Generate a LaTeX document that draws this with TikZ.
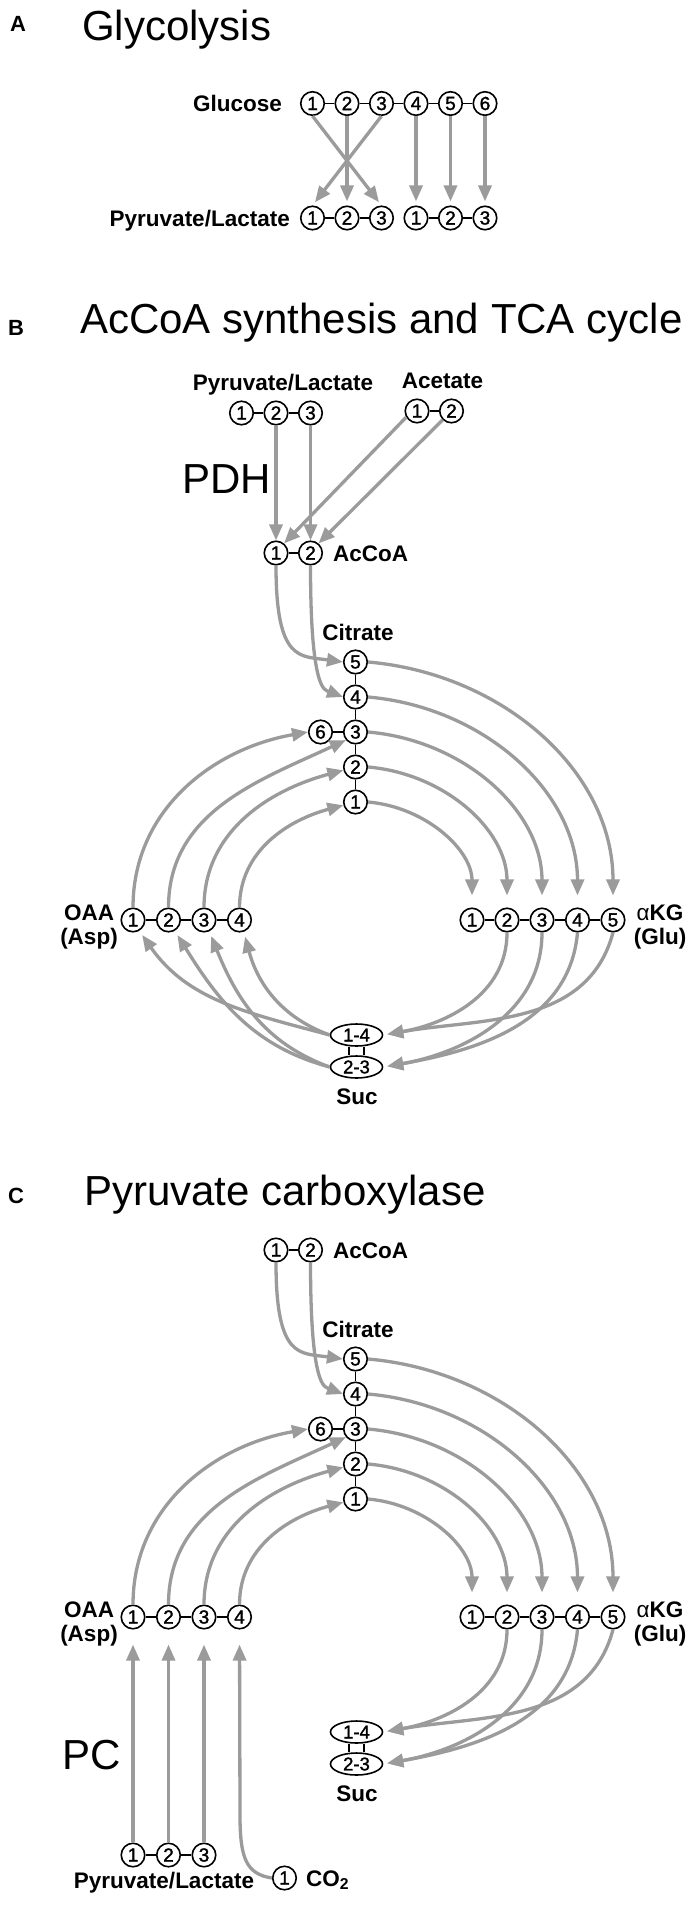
\documentclass[tikz,border=0pt]{standalone}
\usepackage{fontspec}
\setmainfont{Liberation Sans}
\newfontfamily\digitfont[FakeBold=1.5]{Liberation Sans}
\usetikzlibrary{arrows.meta,shapes.geometric}
\definecolor{agray}{RGB}{155,155,155}
\tikzset{
  atom/.style={circle, draw=black, line width=1.6pt, fill=white, minimum size=23.5pt, inner sep=0pt, font=\digitfont\fontsize{19}{19}\selectfont},
  sucnode/.style={ellipse, draw=black, line width=1.6pt, fill=white, minimum width=52pt, minimum height=22pt, inner sep=0pt, font=\digitfont\fontsize{18.5}{18.5}\selectfont},
  bond/.style={draw=black, line width=1.5pt},
  flow/.style={draw=agray, line width=3.3pt, -{Triangle[length=16pt,width=13pt]}},
  lbl/.style={inner sep=0pt, font=\fontsize{22.5}{22.5}\selectfont\bfseries},
  ttl/.style={inner sep=0pt, font=\fontsize{42}{42}\selectfont},
  plbl/.style={inner sep=0pt, font=\fontsize{22}{22}\selectfont\bfseries},
}
\newcommand{\tcacore}{%
  % AcCoA
  \node[atom] (a1) at (276,-553) {1};
  \node[atom] (a2) at (310.5,-553) {2};
  \node[lbl, anchor=base west] (accoa) at (333,-561) {AcCoA};
  \draw[bond] (a1) -- (a2);
  % Citrate
  \node[lbl, anchor=base] (citl) at (358,-640) {Citrate};
  \node[atom] (c5) at (355.5,-662) {5};
  \node[atom] (c4) at (355.5,-697) {4};
  \node[atom] (c3) at (355.5,-732) {3};
  \node[atom] (c2) at (355.5,-767) {2};
  \node[atom] (c1) at (355.5,-802) {1};
  \node[atom] (c6) at (320.5,-732) {6};
  \draw[bond] (c5) -- (c4); \draw[bond] (c4) -- (c3); \draw[bond] (c3) -- (c2);
  \draw[bond] (c2) -- (c1); \draw[bond] (c6) -- (c3);
  % OAA
  \foreach \i/\x in {1/133,2/168.5,3/204,4/239.5}{\node[atom] (o\i) at (\x,-920) {\i};}
  \draw[bond] (o1) -- (o2); \draw[bond] (o2) -- (o3); \draw[bond] (o3) -- (o4);
  \node[lbl, anchor=base] (oaa) at (89,-920) {OAA};
  \node[lbl, anchor=base] (asp) at (89,-944) {(Asp)};
  % aKG
  \foreach \i/\x in {1/472,2/507,3/542,4/577.5,5/613}{\node[atom] (k\i) at (\x,-920) {\i};}
  \draw[bond] (k1) -- (k2); \draw[bond] (k2) -- (k3); \draw[bond] (k3) -- (k4); \draw[bond] (k4) -- (k5);
  \node[lbl, anchor=base] (akg) at (660,-920) {{\mdseries α}KG};
  \node[lbl, anchor=base] (glu) at (660,-944) {(Glu)};
  % Succinate
  \node[sucnode] (s14) at (356.5,-1035) {1-4};
  \node[sucnode] (s23) at (356.5,-1067) {2-3};
  \draw[bond] ([xshift=-7.5pt]s14.south) -- ([xshift=-7.5pt]s23.north);
  \draw[bond] ([xshift=7.5pt]s14.south) -- ([xshift=7.5pt]s23.north);
  \node[lbl, anchor=base] (sucl) at (357,-1104) {Suc};
  % AcCoA -> citrate
  \draw[flow] (a1.south) .. controls (276,-662) and (300,-656) .. (c5.west);
  \draw[flow] (a2.south) .. controls (310.5,-692) and (325,-690) .. (c4.west);
  % citrate -> aKG
  \draw[flow, shorten >=12pt] (c5.east) to[out=-5,in=90] (k5.north);
  \draw[flow, shorten >=12pt] (c4.east) to[out=-5,in=90] (k4.north);
  \draw[flow, shorten >=12pt] (c3.east) to[out=-5,in=90] (k3.north);
  \draw[flow, shorten >=12pt] (c2.east) to[out=-5,in=90] (k2.north);
  \draw[flow, shorten >=12pt] (c1.east) to[out=-5,in=90] (k1.north);
  % OAA -> citrate
  \draw[flow] (o1.north) to[out=90,in=190] (c6.west);
  \draw[flow] (o2.north) to[out=90,in=205] (c3.-140);
  \draw[flow] (o3.north) to[out=90,in=195] (c2.195);
  \draw[flow] (o4.north) to[out=90,in=195] (c1.195);
  % aKG -> Suc
  \draw[flow, shorten >=4pt] (k2.south) to[out=-90,in=10] (s14.east);
  \draw[flow, shorten >=4pt] (k5.south) to[out=-105,in=10] (s14.east);
  \draw[flow, shorten >=4pt] (k3.south) to[out=-90,in=10] (s23.east);
  \draw[flow, shorten >=4pt] (k4.south) to[out=-95,in=10] (s23.east);
}
\begin{document}
\begin{tikzpicture}[x=1pt,y=1pt]
\useasboundingbox[fill=white] (0,0) rectangle (693,-1905);
% ---------------- Panel A
\node[plbl] (labA) at (18,-24) {A};
\node[ttl, anchor=base west] (titA) at (82,-41) {Glycolysis};
\foreach \i/\x in {1/312.5,2/347,3/381.5,4/416,5/450.5,6/485}{\node[atom] (g\i) at (\x,-103.5) {\i};}
\foreach \i/\x/\t in {1/312.5/1,2/347/2,3/381.5/3,4/416/1,5/450.5/2,6/485/3}{\node[atom] (pa\i) at (\x,-218) {\t};}
\draw[bond] (g1) -- (g2); \draw[bond] (g2) -- (g3); \draw[bond] (g3) -- (g4);
\draw[bond] (g4) -- (g5); \draw[bond] (g5) -- (g6);
\draw[bond] (pa1) -- (pa2); \draw[bond] (pa2) -- (pa3);
\draw[bond] (pa4) -- (pa5); \draw[bond] (pa5) -- (pa6);
\node[lbl, anchor=base east] (glc) at (282,-111.5) {Glucose};
\node[lbl, anchor=base east] (pyrA) at (290,-226) {Pyruvate/Lactate};
\draw[flow, shorten >=4pt] (g1.south) -- (pa3.north);
\draw[flow, shorten >=4pt] (g3.south) -- (pa1.north);
\draw[flow, shorten >=4pt] (g2.south) -- (pa2.north);
\draw[flow, shorten >=4pt] (g4.south) -- (pa4.north);
\draw[flow, shorten >=4pt] (g5.south) -- (pa5.north);
\draw[flow, shorten >=4pt] (g6.south) -- (pa6.north);
% ---------------- Panel B
\node[plbl] (labB) at (16,-327.5) {B};
\node[ttl, anchor=base west] (titB) at (80,-333) {AcCoA synthesis and TCA cycle};
\node[lbl, anchor=base] (pyrB) at (283,-390) {Pyruvate/Lactate};
\node[lbl, anchor=base] (acet) at (442.5,-388) {Acetate};
\node[atom] (pb1) at (241.5,-413) {1};
\node[atom] (pb2) at (276,-413) {2};
\node[atom] (pb3) at (310.5,-413) {3};
\node[atom] (ac1) at (417,-411) {1};
\node[atom] (ac2) at (451.5,-411) {2};
\draw[bond] (pb1) -- (pb2); \draw[bond] (pb2) -- (pb3); \draw[bond] (ac1) -- (ac2);
\node[ttl, anchor=base west] (pdh) at (182,-493) {PDH};
\begin{scope}[name prefix=B-]
\tcacore
\end{scope}
\draw[flow] (pb2.south) -- (B-a1.north);
\draw[flow] (pb3.south) -- (B-a2.north);
\draw[flow] (ac1.210) -- (B-a1.50);
\draw[flow] (ac2.225) -- (B-a2.50);
% Suc -> OAA
\draw[flow, shorten >=5pt] (B-s14.west) to[out=165,in=-55] (B-o1.-60);
\draw[flow, shorten >=5pt] (B-s14.west) to[out=160,in=-75] (B-o4.-70);
\draw[flow, shorten >=5pt] (B-s23.west) to[out=165,in=-58] (B-o2.-60);
\draw[flow, shorten >=5pt] (B-s23.west) to[out=160,in=-68] (B-o3.-65);
% ---------------- Panel C
\node[plbl] (labC) at (16,-1196) {C};
\node[ttl, anchor=base west] (titC) at (84,-1205) {Pyruvate carboxylase};
\begin{scope}[yshift=-697pt, name prefix=C-]
\tcacore
\end{scope}
\node[atom] (pc1) at (133,-1855) {1};
\node[atom] (pc2) at (168.5,-1855) {2};
\node[atom] (pc3) at (204,-1855) {3};
\draw[bond] (pc1) -- (pc2); \draw[bond] (pc2) -- (pc3);
\node[lbl, anchor=base] (pyrC) at (164,-1888) {Pyruvate/Lactate};
\node[atom] (co2) at (284.5,-1878) {1};
\node[lbl, anchor=base west] (co2l) at (306,-1886) {CO\textsubscript{2}};
\node[ttl, anchor=base west] (pc) at (62,-1769) {PC};
\draw[flow, shorten >=15pt] (pc1.north) -- (C-o1.south);
\draw[flow, shorten >=15pt] (pc2.north) -- (C-o2.south);
\draw[flow, shorten >=15pt] (pc3.north) -- (C-o3.south);
\draw[flow, shorten >=15pt] (co2.west) .. controls (246,-1874) and (240,-1858) .. (240,-1815) -- (C-o4.south);
\end{tikzpicture}
\end{document}
